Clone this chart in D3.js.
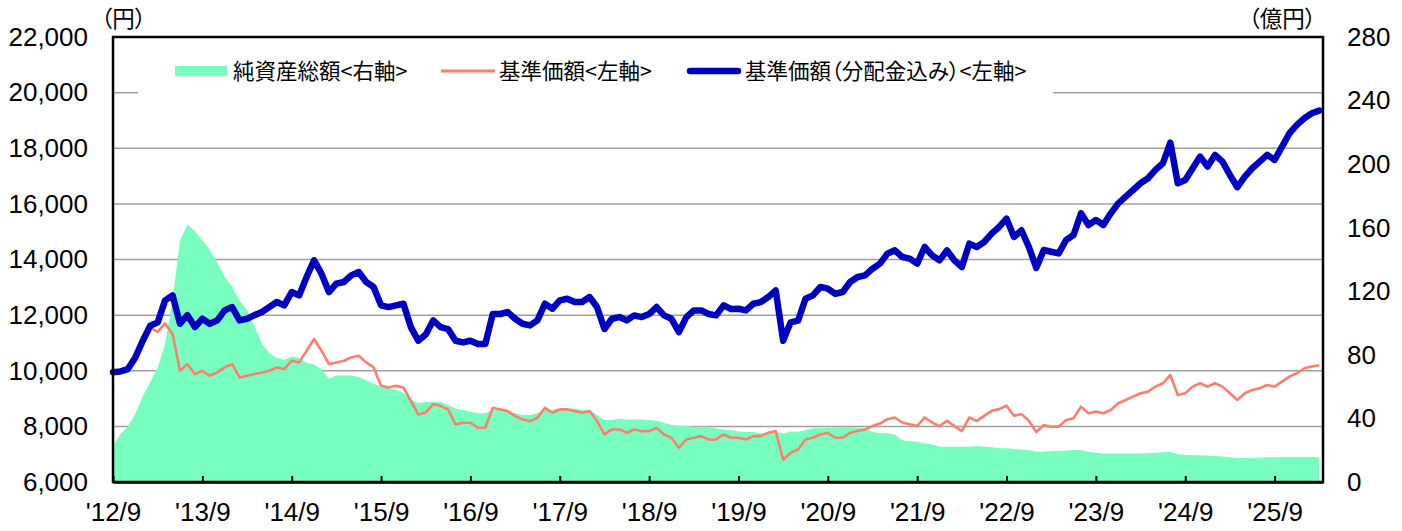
<!DOCTYPE html>
<html>
<head>
<meta charset="utf-8">
<title>基準価額・純資産総額の推移</title>
<script src="https://d3js.org/d3.v7.min.js"></script>
<style>
  body { margin: 0; background: #fff; }
  .num { font-family: "Liberation Sans", Arial, sans-serif; font-size: 26px; fill: #000; }
  .jp { font-family: "Noto Sans CJK JP", sans-serif; fill: #000; font-feature-settings: "palt"; }
  .unit { font-size: 22.5px; }
  .legend { font-size: 21.5px; }
</style>
</head>
<body>
<div id="chart"></div>
<script>
// month index 0 = 2012/9, one value per month
const xTickLabels = ["'12/9","'13/9","'14/9","'15/9","'16/9","'17/9","'18/9","'19/9","'20/9","'21/9","'22/9","'23/9","'24/9","'25/9"];
const leftTicks = [6000, 8000, 10000, 12000, 14000, 16000, 18000, 20000, 22000];
const rightTicks = [0, 40, 80, 120, 160, 200, 240, 280];
const seriesNames = ["純資産総額<右軸>", "基準価額<左軸>", "基準価額（分配金込み）<左軸>"];

// 基準価額（分配金込み） (円)
const navReinvested = [
  9950, 9975, 10060, 10480, 11080, 11620, 11740, 12530, 12710, 11690, 12000, 11570,
  11870, 11690, 11810, 12170, 12290, 11810, 11870, 12000, 12110, 12290, 12470, 12350,
  12830, 12710, 13370, 13970, 13490, 12830, 13130, 13190, 13430, 13550, 13190, 13010,
  12350, 12290, 12350, 12410, 11570, 11080, 11300, 11810, 11570, 11500, 11080, 11020,
  11080, 10960, 10960, 12040, 12040, 12110, 11870, 11690, 11630, 11810, 12410, 12230,
  12530, 12590, 12470, 12470, 12650, 12290, 11500, 11870, 11930, 11810, 11990, 11930,
  12040, 12290, 11990, 11870, 11390, 11930, 12170, 12170, 12040, 11990, 12350, 12220,
  12230, 12170, 12410, 12470, 12650, 12890, 11080, 11740, 11800, 12590, 12710, 13010,
  12950, 12770, 12830, 13190, 13370, 13430, 13670, 13850, 14210, 14330, 14090, 14030,
  13850, 14450, 14150, 13970, 14330, 13970, 13730, 14570, 14450, 14630, 14930, 15170,
  15470, 14810, 15050, 14450, 13700, 14340, 14280, 14220, 14700, 14880, 15660, 15240,
  15420, 15240, 15660, 16020, 16260, 16500, 16740, 16920, 17220, 17460, 18200, 16740,
  16860, 17280, 17700, 17340, 17760, 17520, 17040, 16600, 16980, 17280, 17520, 17760,
  17580, 18060, 18540, 18840, 19080, 19260, 19350
];

// 基準価額 (円)
const nav = [
  9950, 9975, 10060, 10480, 11080, 11550, 11400, 11700, 11320, 10000, 10240, 9880,
  10000, 9820, 9940, 10120, 10240, 9760, 9820, 9880, 9940, 10000, 10120, 10060,
  10360, 10300, 10720, 11140, 10720, 10240, 10300, 10360, 10480, 10540, 10300, 10120,
  9460, 9400, 9460, 9400, 8920, 8430, 8500, 8800, 8730, 8610, 8070, 8130,
  8130, 7950, 7950, 8670, 8610, 8550, 8370, 8250, 8190, 8310, 8670, 8490,
  8610, 8610, 8550, 8490, 8550, 8190, 7710, 7890, 7890, 7770, 7890, 7830,
  7830, 7950, 7710, 7590, 7230, 7530, 7590, 7650, 7530, 7530, 7710, 7590,
  7590, 7530, 7650, 7650, 7770, 7830, 6800, 7050, 7170, 7530, 7590, 7710,
  7770, 7590, 7590, 7770, 7830, 7890, 8010, 8100, 8260, 8320, 8140, 8080,
  8010, 8320, 8140, 8010, 8200, 8010, 7830, 8320, 8200, 8380, 8560, 8620,
  8740, 8380, 8440, 8200, 7800, 8050, 7990, 7990, 8230, 8290, 8710, 8470,
  8530, 8470, 8590, 8830, 8950, 9070, 9190, 9250, 9430, 9550, 9850, 9130,
  9190, 9430, 9550, 9430, 9550, 9430, 9190, 8950, 9190, 9310, 9370, 9490,
  9430, 9610, 9790, 9910, 10090, 10150, 10200
];

// 純資産総額 (億円)
const netAssets = [
  23, 30, 35, 43, 54, 63, 72, 87, 114, 152, 162, 158,
  152, 146, 138, 129, 123, 114, 108, 98, 87, 81, 78, 77,
  79, 78, 75, 74, 71, 65, 67, 67, 67, 66, 64, 62,
  60, 59, 58, 56, 52, 49.5, 50.5, 50.5, 50.5, 48.4, 46.3, 45.3,
  44.2, 43.2, 43.2, 45.3, 45.3, 44.2, 43.2, 42.1, 42.1, 43.2, 46.3, 45.3,
  46.3, 46.3, 46.3, 45.3, 45.3, 42.1, 39.0, 39.0, 40.0, 39.4, 39.4, 39.4,
  39.0, 38.6, 37.3, 35.8, 35.2, 35.2, 34.8, 34.8, 34.8, 33.7, 33.1, 32.7,
  31.7, 31.4, 31.4, 30.6, 30.6, 31.7, 30.5, 31.7, 31.4, 32.7, 33.8, 33.8,
  34.1, 34.3, 34.6, 34.6, 34.3, 33.8, 31.4, 30.9, 30.6, 29.9, 26.3, 25.7,
  25.4, 24.3, 23.7, 22.2, 22.2, 22.2, 22.2, 22.2, 22.6, 22.2, 21.8, 21.2,
  21.2, 20.7, 20.5, 20.1, 19.1, 19.1, 19.5, 19.7, 19.7, 20.1, 20.1, 19.1,
  18.4, 18.0, 18.0, 18.0, 18.0, 18.0, 18.0, 18.2, 18.4, 18.7, 19.1, 17.6,
  17.0, 17.0, 16.8, 16.6, 16.4, 16.0, 15.5, 15.1, 15.1, 15.3, 15.3, 15.5,
  15.5, 15.7, 15.7, 15.7, 15.7, 15.7, 15.5
];

function renderChart(selection) {
  const width = 1402, height = 531;
  const margin = {top: 37, right: 79, bottom: 49, left: 113};
  const innerW = width - margin.left - margin.right;
  const innerH = height - margin.top - margin.bottom;

  const svg = selection.append("svg")
    .attr("width", width)
    .attr("height", height);

  const g = svg.append("g")
    .attr("transform", `translate(${margin.left},${margin.top})`);

  const months = d3.range(navReinvested.length);
  const x = d3.scaleLinear().domain([0, 162.5]).range([0, innerW]);
  const yLeft = d3.scaleLinear().domain([6000, 22000]).range([innerH, 0]);
  const yRight = d3.scaleLinear().domain([0, 280]).range([innerH, 0]);

  // grid lines
  g.append("g").selectAll("line")
    .data(leftTicks.slice(1, -1))
    .join("line")
    .attr("x1", 0).attr("x2", innerW)
    .attr("y1", d => yLeft(d)).attr("y2", d => yLeft(d))
    .attr("stroke", "#a0a0a0")
    .attr("stroke-width", 1.5);

  // legend background hides the grid
  g.append("rect")
    .attr("x", 25).attr("y", 10)
    .attr("width", 915).attr("height", 52)
    .attr("fill", "#fff");

  // net assets area
  const area = d3.area()
    .x(d => x(d))
    .y0(innerH)
    .y1(d => yRight(netAssets[d]));
  g.append("path")
    .datum(months)
    .attr("fill", "#78ffc0")
    .attr("d", area);

  const lineNav = d3.line().x(d => x(d)).y(d => yLeft(nav[d]));
  const lineRe = d3.line().x(d => x(d)).y(d => yLeft(navReinvested[d]));

  g.append("path")
    .datum(months)
    .attr("fill", "none")
    .attr("stroke", "#ff7f6f")
    .attr("stroke-width", 2.6)
    .attr("stroke-linejoin", "round")
    .attr("d", lineNav);

  g.append("path")
    .datum(months)
    .attr("fill", "none")
    .attr("stroke", "#0000c0")
    .attr("stroke-width", 6.5)
    .attr("stroke-linejoin", "round")
    .attr("stroke-linecap", "round")
    .attr("d", lineRe);

  // frame
  g.append("rect")
    .attr("width", innerW).attr("height", innerH)
    .attr("fill", "none")
    .attr("stroke", "#000")
    .attr("stroke-width", 2.5);

  // x axis
  const xAxis = g.append("g")
    .attr("transform", `translate(0,${innerH})`)
    .call(d3.axisBottom(x)
      .tickValues(d3.range(0, 157, 12))
      .tickFormat((d, i) => xTickLabels[i])
      .tickSizeInner(-6).tickSizeOuter(0).tickPadding(21));
  xAxis.select(".domain").attr("stroke", "#000").attr("stroke-width", 2.5);
  xAxis.selectAll(".tick line").attr("stroke", "#000").attr("stroke-width", 2);
  xAxis.selectAll("text").attr("class", "num").attr("font-size", null).attr("font-family", null);

  // left axis
  const yAxisL = g.append("g")
    .call(d3.axisLeft(yLeft).tickValues(leftTicks).tickFormat(d3.format(",")).tickSize(0).tickPadding(25));
  yAxisL.select(".domain").remove();
  yAxisL.selectAll("text").attr("class", "num").attr("font-size", null).attr("font-family", null);

  // right axis
  const yAxisR = g.append("g")
    .attr("transform", `translate(${innerW},0)`)
    .call(d3.axisRight(yRight).tickValues(rightTicks).tickSize(0).tickPadding(24));
  yAxisR.select(".domain").remove();
  yAxisR.selectAll("text").attr("class", "num").attr("font-size", null).attr("font-family", null);

  // unit labels
  svg.append("text").attr("class", "jp unit")
    .attr("x", 101).attr("y", 27).text("（円）");
  svg.append("text").attr("class", "jp unit")
    .attr("x", 1316).attr("y", 27).attr("text-anchor", "end").text("（億円）");

  // legend
  const leg = svg.append("g");
  leg.append("rect")
    .attr("x", 175).attr("y", 66).attr("width", 52).attr("height", 10)
    .attr("fill", "#78ffc0");
  leg.append("line")
    .attr("x1", 441).attr("x2", 495).attr("y1", 71).attr("y2", 71)
    .attr("stroke", "#ff7f6f").attr("stroke-width", 3);
  leg.append("line")
    .attr("x1", 690).attr("x2", 738).attr("y1", 71).attr("y2", 71)
    .attr("stroke", "#0000c0").attr("stroke-width", 6.5).attr("stroke-linecap", "round");
  const legX = [233, 499, 745];
  leg.selectAll("text.legend")
    .data(seriesNames)
    .join("text")
    .attr("class", "jp legend")
    .attr("x", (d, i) => legX[i])
    .attr("y", 71)
    .attr("dy", "0.36em")
    .text(d => d);
}

renderChart(d3.select("#chart"));
</script>
</body>
</html>
